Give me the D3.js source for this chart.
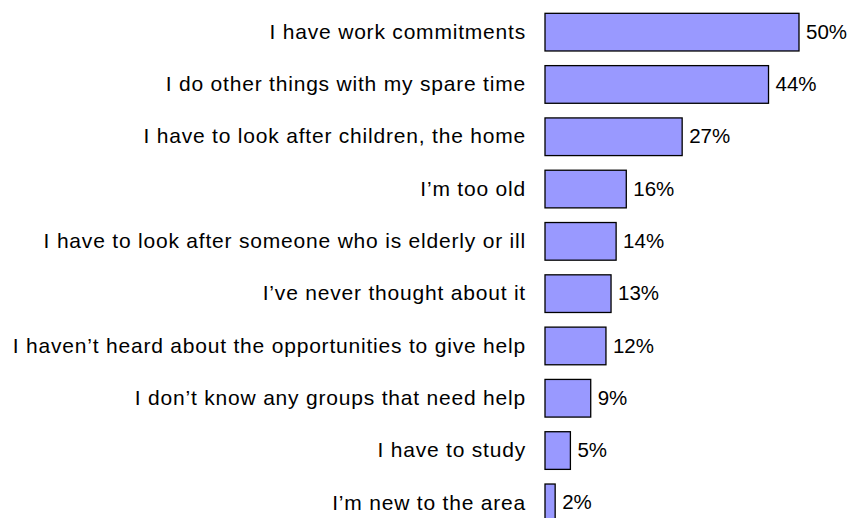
<!DOCTYPE html>
<html>
<head>
<meta charset="utf-8">
<script src="https://cdn.jsdelivr.net/npm/d3@7"></script>
<style>
  html, body { margin: 0; padding: 0; background: #fff; }
  svg { display: block; }
  text { font-family: Arial, "Liberation Sans", sans-serif; }
</style>
</head>
<body>
<svg id="chart" width="850" height="518"></svg>
<script>
const reasons = [
  "I have work commitments",
  "I do other things with my spare time",
  "I have to look after children, the home",
  "I\u2019m too old",
  "I have to look after someone who is elderly or ill",
  "I\u2019ve never thought about it",
  "I haven\u2019t heard about the opportunities to give help",
  "I don\u2019t know any groups that need help",
  "I have to study",
  "I\u2019m new to the area"
];
const percents = [50, 44, 27, 16, 14, 13, 12, 9, 5, 2];

const svg = d3.select("#chart");

const x = d3.scaleLinear().domain([0, 50]).range([545, 799]);
const y = d3.scaleBand()
  .domain(reasons)
  .range([6, 529])
  .paddingInner(0.28)
  .paddingOuter(0.14);

const rows = svg.selectAll("g.row")
  .data(reasons.map((r, i) => ({ reason: r, value: percents[i] })))
  .join("g")
  .attr("class", "row");

rows.append("rect")
  .attr("x", x(0))
  .attr("y", d => y(d.reason))
  .attr("width", d => x(d.value) - x(0))
  .attr("height", y.bandwidth())
  .attr("fill", "#9999ff")
  .attr("stroke", "#000")
  .attr("stroke-width", 1.3);

// category labels, right-aligned against the bars
rows.append("text")
  .attr("x", x(0) - 19)
  .attr("y", d => y(d.reason) + y.bandwidth() / 2)
  .attr("dy", "0.32em")
  .attr("text-anchor", "end")
  .attr("font-size", 21)
  .attr("letter-spacing", 0.8)
  .attr("fill", "#000")
  .text(d => d.reason);

// percentage labels at the bar ends
rows.append("text")
  .attr("x", d => x(d.value) + 7)
  .attr("y", d => y(d.reason) + y.bandwidth() / 2)
  .attr("dy", "0.32em")
  .attr("font-size", 20.5)
  .attr("fill", "#000")
  .text(d => d.value + "%");
</script>
</body>
</html>
